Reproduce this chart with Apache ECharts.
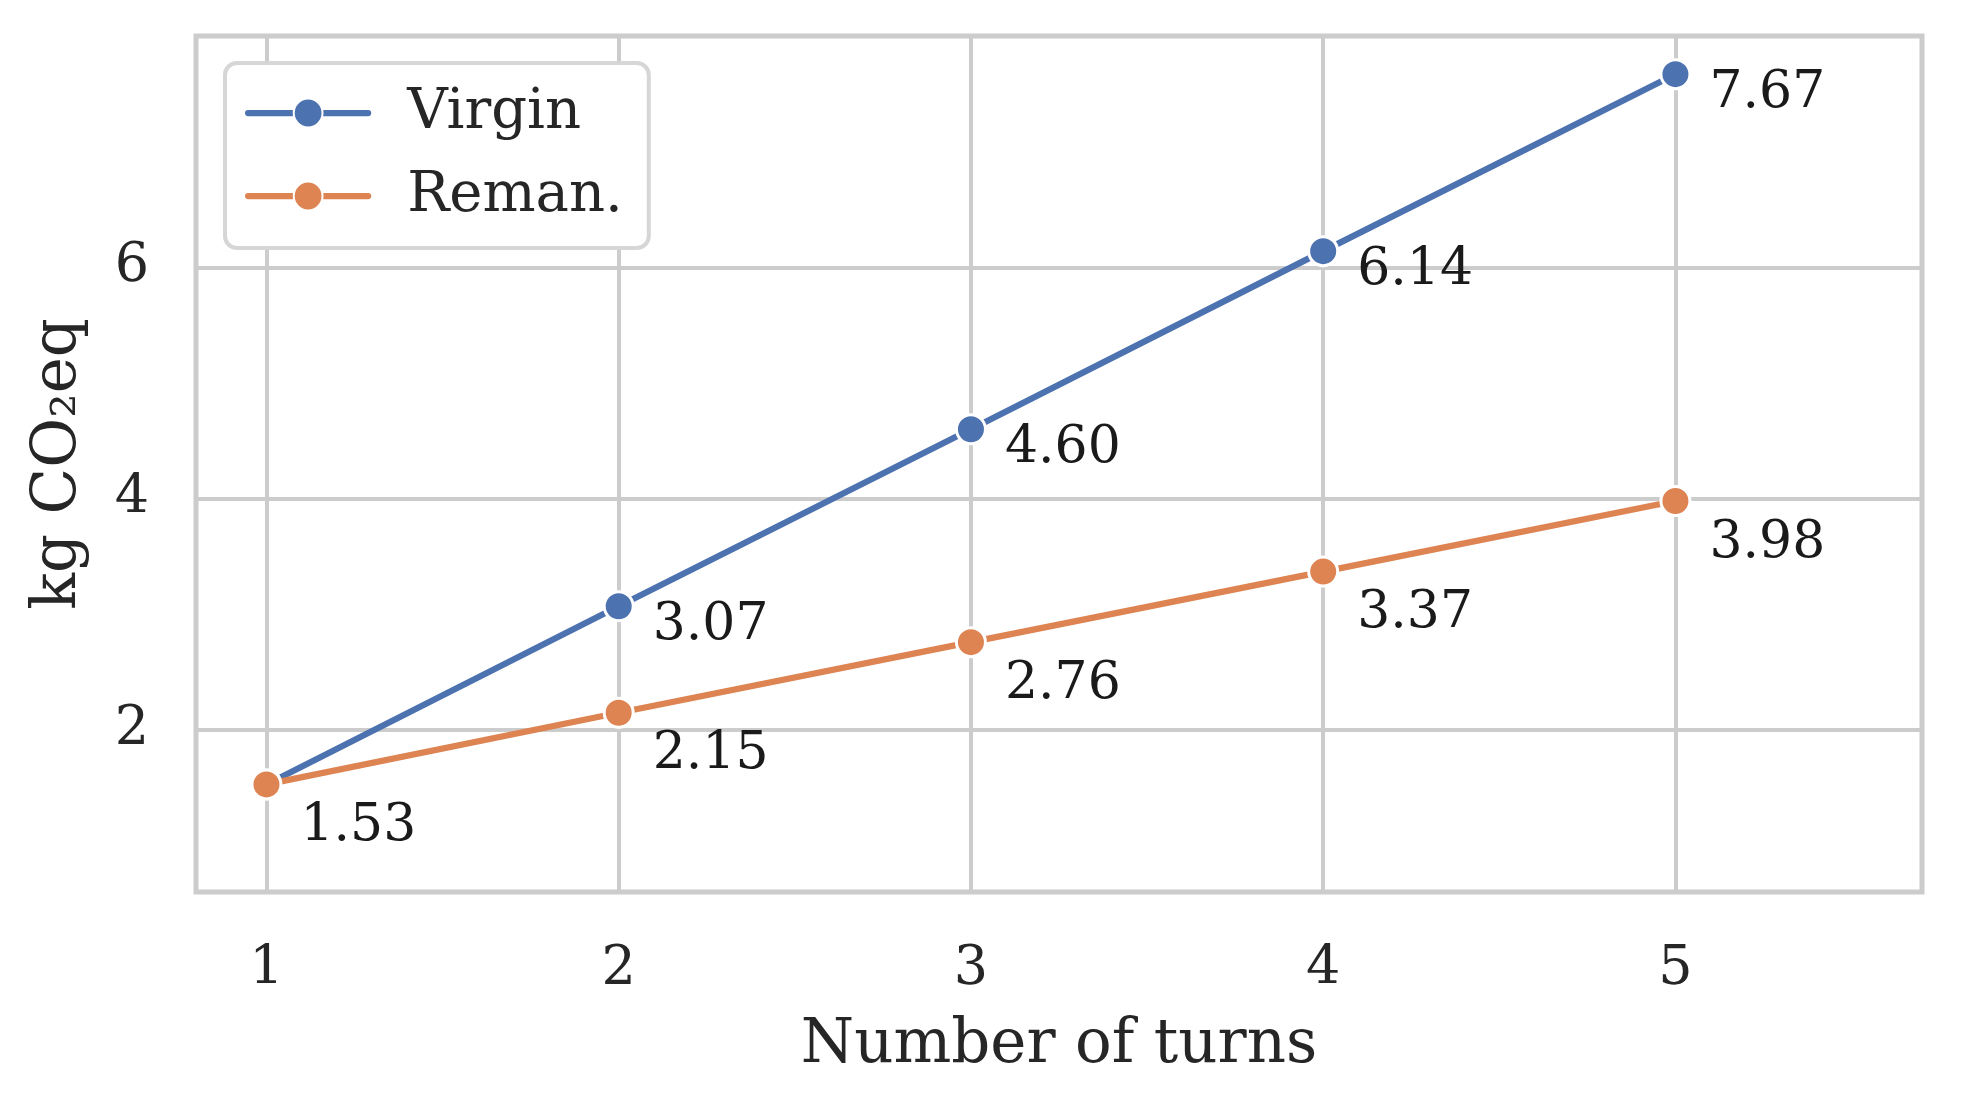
<!DOCTYPE html>
<html>
<head>
<meta charset="utf-8">
<script src="https://cdn.jsdelivr.net/npm/echarts@6/dist/echarts.min.js"></script>
<style>
html,body{margin:0;padding:0;background:#fff;}
#chart{width:1961px;height:1093px;}
</style>
</head>
<body>
<div id="chart"></div>
<script>
const turns = [1, 2, 3, 4, 5];
const virgin = [1.53, 3.07, 4.60, 6.14, 7.67];
const reman = [1.53, 2.15, 2.76, 3.37, 3.98];
const seriesNames = ['Virgin', 'Reman.'];
const xTitle = 'Number of turns';
const yTitle = 'kg CO\u2082eq';

const FONT = 'DejaVu Serif';
const TXT = '#262626';
const GRID = '#cccccc';
const BLUE = '#4C72B0';
const ORANGE = '#DD8452';

function pairs(vals) { return turns.map((t, i) => [t, vals[i]]); }

const chart = echarts.init(document.getElementById('chart'), null, {renderer: 'canvas'});
chart.setOption({
  backgroundColor: '#ffffff',
  animation: false,
  grid: {left: 196, top: 36, width: 1726, height: 856, show: true,
         borderColor: GRID, borderWidth: 5, backgroundColor: 'transparent'},
  xAxis: {
    type: 'value', min: 0.8, max: 5.7, splitNumber: 5,
    name: xTitle, nameLocation: 'middle', nameGap: 124,
    nameTextStyle: {fontFamily: FONT, fontSize: 61, color: TXT},
    axisLine: {show: false}, axisTick: {show: false},
    axisLabel: {fontFamily: FONT, fontSize: 54, color: TXT, margin: 51,
      showMinLabel: false, showMaxLabel: false,
      formatter: v => (Math.abs(v - Math.round(v)) < 1e-6 ? String(Math.round(v)) : '')},
    splitLine: {show: true, lineStyle: {color: GRID, width: 4}}
  },
  yAxis: {
    type: 'value', min: 0.6, max: 8.0, splitNumber: 4,
    name: yTitle, nameLocation: 'middle', nameGap: 106, nameRotate: 90,
    nameTextStyle: {fontFamily: FONT, fontSize: 61, color: TXT},
    axisLine: {show: false}, axisTick: {show: false},
    axisLabel: {fontFamily: FONT, fontSize: 54, color: TXT, margin: 47,
      showMinLabel: false, showMaxLabel: false,
      formatter: v => (Math.abs(v / 2 - Math.round(v / 2)) < 1e-6 ? String(Math.round(v)) : '')},
    splitLine: {show: true, lineStyle: {color: GRID, width: 4}}
  },
  legend: {
    orient: 'vertical', left: 225, top: 63,
    padding: [17, 26, 19, 20],
    itemWidth: 120, itemHeight: 36, itemGap: 17,
    backgroundColor: '#ffffff', borderColor: '#d6d6d6', borderWidth: 4, borderRadius: 12,
    lineStyle: {width: 6.25, cap: 'round'},
    textStyle: {fontFamily: FONT, fontSize: 56, color: TXT, lineHeight: 66, padding: [0, 0, 0, 34]},
    data: seriesNames
  },
  series: [
    {
      name: seriesNames[0], type: 'line', data: pairs(virgin),
      symbol: 'circle', symbolSize: 29,
      lineStyle: {color: BLUE, width: 6.25, cap: 'round'},
      itemStyle: {color: BLUE, borderColor: '#ffffff', borderWidth: 3},
      label: {show: true, position: 'inside', align: 'left', verticalAlign: 'middle',
        offset: [34, 19], fontFamily: FONT, fontSize: 52, color: '#1a1a1a',
        formatter: p => (p.dataIndex === 0 ? '' : p.value[1].toFixed(2))},
      emphasis: {disabled: true}, z: 2
    },
    {
      name: seriesNames[1], type: 'line', data: pairs(reman),
      symbol: 'circle', symbolSize: 29,
      lineStyle: {color: ORANGE, width: 6.25, cap: 'round'},
      itemStyle: {color: ORANGE, borderColor: '#ffffff', borderWidth: 3},
      label: {show: true, position: 'inside', align: 'left', verticalAlign: 'middle',
        offset: [34, 42], fontFamily: FONT, fontSize: 52, color: '#1a1a1a',
        formatter: p => p.value[1].toFixed(2)},
      emphasis: {disabled: true}, z: 3
    }
  ]
});
</script>
</body>
</html>
